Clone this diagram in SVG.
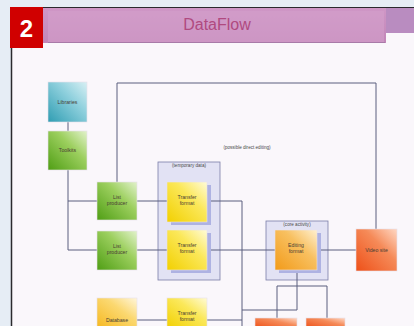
<svg xmlns="http://www.w3.org/2000/svg" width="414" height="326" viewBox="0 0 414 326">
<defs>
<linearGradient id="gCyan" x1="0" y1="1" x2="1" y2="0"><stop offset="0" stop-color="#2f9db2"/><stop offset="0.6" stop-color="#8fd0dd"/><stop offset="1" stop-color="#d8f0f4"/></linearGradient>
<linearGradient id="gGreen" x1="0" y1="1" x2="1" y2="0"><stop offset="0" stop-color="#4f9e14"/><stop offset="0.6" stop-color="#9ccf5e"/><stop offset="1" stop-color="#e2f2cc"/></linearGradient>
<linearGradient id="gYellow" x1="0" y1="1" x2="1" y2="0"><stop offset="0" stop-color="#f2d000"/><stop offset="0.6" stop-color="#fbe85a"/><stop offset="1" stop-color="#fffbd8"/></linearGradient>
<linearGradient id="gOrange" x1="0" y1="1" x2="1" y2="0"><stop offset="0" stop-color="#f29a18"/><stop offset="0.6" stop-color="#f8c060"/><stop offset="1" stop-color="#fff0d0"/></linearGradient>
<linearGradient id="gRed" x1="0" y1="1" x2="1" y2="0"><stop offset="0" stop-color="#ee5018"/><stop offset="0.6" stop-color="#f58a58"/><stop offset="1" stop-color="#ffd8c4"/></linearGradient>
<linearGradient id="gDb" x1="0" y1="1" x2="1" y2="0"><stop offset="0" stop-color="#f6b820"/><stop offset="0.6" stop-color="#fbd870"/><stop offset="1" stop-color="#fff6dc"/></linearGradient>
<linearGradient id="gTitle" x1="0" y1="0" x2="0" y2="1"><stop offset="0" stop-color="#cf97c6"/><stop offset="1" stop-color="#c286b8"/></linearGradient>
</defs>
<style>
.lbl{font-family:"Liberation Sans",Arial,sans-serif;font-size:5.2px;fill:#4a3e34;text-anchor:middle}
.box{stroke:#e8e0ea;stroke-width:0.6}
.sh{fill:#aeb2e2}
.cont{fill:#e2e2f4;stroke:#7a7ea8;stroke-width:0.8}
.ln{fill:none;stroke:#5a5e7e;stroke-width:1}
.small{font-family:"Liberation Sans",Arial,sans-serif;font-size:4.6px;fill:#4a4a4a;text-anchor:middle}
</style>
<rect x="0" y="0" width="414" height="326" fill="#e6edf5"/>
<rect x="11" y="7" width="403" height="319" fill="#faf7fb"/>
<line x1="11.5" y1="47" x2="11.5" y2="326" stroke="#2a2a2e" stroke-width="1.5"/>
<line x1="43" y1="7.5" x2="414" y2="7.5" stroke="#2a2a2e" stroke-width="1"/>
<g id="title">
<rect x="385" y="8" width="29" height="25" fill="#b98cc0"/>
<rect x="43" y="8" width="343" height="35" fill="url(#gTitle)"/>
<rect x="48" y="11" width="336" height="31" fill="#d3a0cb" opacity="0.6"/>
<line x1="48" y1="42.5" x2="385" y2="42.5" stroke="#a87aa8" stroke-width="1"/>
<text x="217" y="30" font-family="Liberation Sans,Arial,sans-serif" font-size="16" fill="#b04a80" text-anchor="middle">DataFlow</text>
</g>
<g id="badge">
<rect x="10" y="7" width="33" height="41" fill="#d00000"/>
<text x="26.5" y="37" font-family="Liberation Sans,Arial,sans-serif" font-size="24" font-weight="bold" fill="#ffffff" text-anchor="middle">2</text>
</g>
<g id="containers">
<rect class="cont" x="158" y="162" width="62" height="118"/>
<text class="small" x="189" y="167">(temporary data)</text>
<rect class="cont" x="266" y="221" width="62" height="59"/>
<text class="small" x="297" y="226">(core activity)</text>
</g>
<g id="connectors">
<line class="ln" x1="68" y1="122" x2="68" y2="131"/>
<polyline class="ln" points="68,170 68,250 97,250"/>
<line class="ln" x1="68" y1="201" x2="97" y2="201"/>
<polyline class="ln" points="117,182 117,83 376,83 376,229"/>
<line class="ln" x1="137" y1="201" x2="167" y2="201"/>
<line class="ln" x1="137" y1="250" x2="167" y2="250"/>
<polyline class="ln" points="207,201 242,201 242,326"/>
<line class="ln" x1="207" y1="250" x2="275" y2="250"/>
<line class="ln" x1="317" y1="250" x2="356" y2="250"/>
<line class="ln" x1="137" y1="320" x2="167" y2="320"/>
<line class="ln" x1="207" y1="320" x2="242" y2="320"/>
<polyline class="ln" points="297,270 297,310 242,310"/>
<polyline class="ln" points="277,318 277,286 327,286 327,318"/>
</g>
<text class="small" x="247" y="149">(possible direct editing)</text>
<g id="libraries"><rect class="box" x="48" y="82" width="39" height="40" fill="url(#gCyan)"/><text class="lbl" x="67.5" y="104">Libraries</text></g>
<g id="toolkits"><rect class="box" x="48" y="131" width="39" height="39" fill="url(#gGreen)"/><text class="lbl" x="67.5" y="152">Toolkits</text></g>
<g id="list1"><rect class="box" x="97" y="182" width="40" height="38" fill="url(#gGreen)"/><text class="lbl" x="117" y="199">List</text><text class="lbl" x="117" y="205">producer</text></g>
<g id="list2"><rect class="box" x="97" y="231" width="40" height="39" fill="url(#gGreen)"/><text class="lbl" x="117" y="248">List</text><text class="lbl" x="117" y="254">producer</text></g>
<g id="transfer1"><rect class="sh" x="171" y="185" width="40" height="40"/><rect class="box" x="167" y="182" width="40" height="40" fill="url(#gYellow)"/><text class="lbl" x="187" y="199">Transfer</text><text class="lbl" x="187" y="205">format</text></g>
<g id="transfer2"><rect class="sh" x="171" y="233" width="40" height="40"/><rect class="box" x="167" y="230" width="40" height="40" fill="url(#gYellow)"/><text class="lbl" x="187" y="247">Transfer</text><text class="lbl" x="187" y="253">format</text></g>
<g id="editing"><rect class="sh" x="279" y="233" width="42" height="40"/><rect class="box" x="275" y="230" width="42" height="40" fill="url(#gOrange)"/><text class="lbl" x="296" y="247">Editing</text><text class="lbl" x="296" y="253">format</text></g>
<g id="video"><rect class="box" x="356" y="229" width="41" height="42" fill="url(#gRed)"/><text class="lbl" x="376.5" y="252">Video site</text></g>
<g id="database"><rect class="box" x="97" y="298" width="40" height="30" fill="url(#gDb)"/><text class="lbl" x="117" y="322">Database</text></g>
<g id="transfer3"><rect class="box" x="167" y="298" width="40" height="30" fill="url(#gYellow)"/><text class="lbl" x="187" y="315">Transfer</text><text class="lbl" x="187" y="321">format</text></g>
<g id="out1"><rect class="box" x="255" y="318" width="42" height="10" fill="url(#gRed)"/></g>
<g id="out2"><rect class="box" x="306" y="318" width="39" height="10" fill="url(#gRed)"/></g>
</svg>
